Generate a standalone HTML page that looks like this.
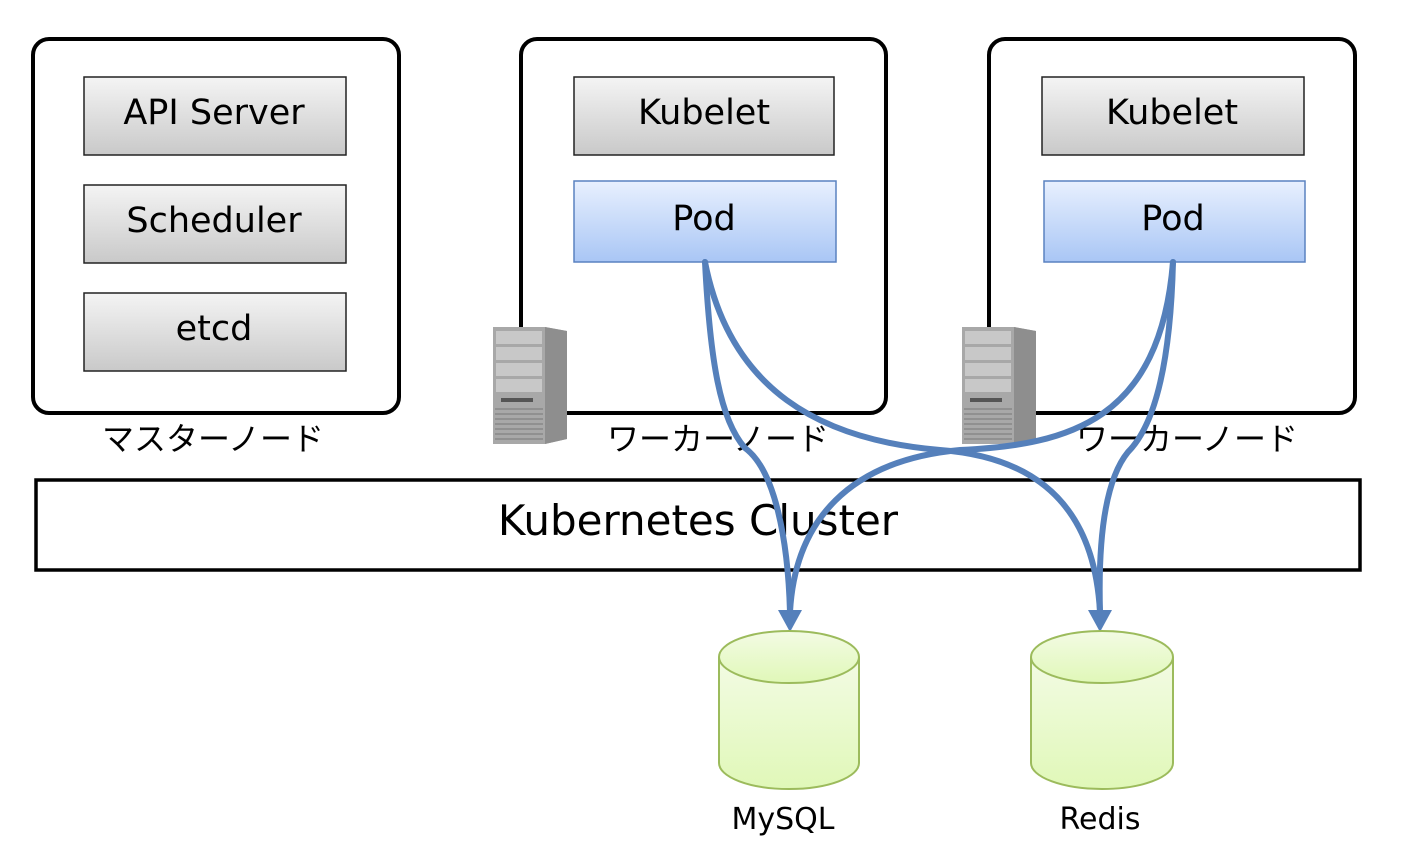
<!DOCTYPE html>
<html><head><meta charset="utf-8"><style>
body{margin:0;background:#fff;}
svg{display:block}
text{font-family:"DejaVu Sans","Liberation Sans","Noto Sans CJK JP",sans-serif;fill:#000}
.jp{font-family:"Noto Sans CJK JP",sans-serif}
</style></head><body>
<svg width="1402" height="860" viewBox="0 0 1402 860" xmlns="http://www.w3.org/2000/svg">
<defs>
<linearGradient id="g" x1="0" y1="0" x2="0" y2="1"><stop offset="0" stop-color="#f4f4f4"/><stop offset="1" stop-color="#c9c9c9"/></linearGradient>
<linearGradient id="b" x1="0" y1="0" x2="0" y2="1"><stop offset="0" stop-color="#e8f0fe"/><stop offset="1" stop-color="#a9c6f5"/></linearGradient>
<linearGradient id="gr" x1="0" y1="0" x2="0" y2="1"><stop offset="0" stop-color="#f3fbe4"/><stop offset="1" stop-color="#e0f8b8"/></linearGradient>
<g id="server">
<polygon points="0,0 52,0 74,4 74,112 52,117 0,117" fill="#a8a8a8"/>
<polygon points="52,0 74,4 74,112 52,117" fill="#8e8e8e"/>
<rect x="3" y="4" width="46" height="13" fill="#c8c8c8"/><rect x="3" y="20" width="46" height="13" fill="#c8c8c8"/>
<rect x="3" y="36" width="46" height="13" fill="#c8c8c8"/><rect x="3" y="52" width="46" height="13" fill="#c8c8c8"/>
<rect x="8" y="71" width="32" height="4" fill="#555"/>
<g stroke="#777" stroke-width="1"><line x1="2" y1="82" x2="50" y2="82"/><line x1="2" y1="87" x2="50" y2="87"/><line x1="2" y1="92" x2="50" y2="92"/><line x1="2" y1="97" x2="50" y2="97"/><line x1="2" y1="102" x2="50" y2="102"/><line x1="2" y1="107" x2="50" y2="107"/><line x1="2" y1="112" x2="50" y2="112"/></g>
</g>
</defs>
<g fill="#fff" stroke="#000" stroke-width="4">
<rect x="33" y="39" width="366" height="374" rx="16"/>
<rect x="521" y="39" width="365" height="374" rx="16"/>
<rect x="989" y="39" width="366" height="374" rx="16"/>
</g>
<g stroke="#222" stroke-width="1.5" fill="url(#g)">
<rect x="84" y="77" width="262" height="78"/>
<rect x="84" y="185" width="262" height="78"/>
<rect x="84" y="293" width="262" height="78"/>
<rect x="574" y="77" width="260" height="78"/>
<rect x="1042" y="77" width="262" height="78"/>
</g>
<g stroke="#5a82c0" stroke-width="1.5" fill="url(#b)">
<rect x="574" y="181" width="262" height="81"/>
<rect x="1044" y="181" width="261" height="81"/>
</g>
<g font-size="35" text-anchor="middle">
<text x="214" y="124">API Server</text>
<text x="214" y="232">Scheduler</text>
<text x="214" y="340">etcd</text>
<text x="704" y="124">Kubelet</text>
<text x="1172" y="124">Kubelet</text>
<text x="704" y="230">Pod</text>
<text x="1173" y="230">Pod</text>
</g>
<use href="#server" x="493" y="327"/>
<use href="#server" x="962" y="327"/>
<g font-size="32" text-anchor="middle" class="jp">
<text x="213" y="450" class="jp">マスターノード</text>
<text x="718" y="450" class="jp">ワーカーノード</text>
<text x="1187" y="450" class="jp">ワーカーノード</text>
</g>
<rect x="36" y="480" width="1324" height="90" fill="#fff" stroke="#000" stroke-width="3.5"/>
<text x="698" y="535" font-size="42" text-anchor="middle">Kubernetes Cluster</text>
<g fill="none" stroke="#5580bb" stroke-width="6" stroke-linecap="round">
<path d="M705,262 C710,360 720,420 745,448 C775,470 788,540 790,612"/>
<path d="M705,262 C730,390 820,440 940,450 C1050,458 1095,520 1100,612"/>
<path d="M1173,262 C1160,420 1070,445 960,450 C850,460 795,520 790,612"/>
<path d="M1173,262 C1170,380 1150,430 1128,452 C1105,480 1098,540 1100,612"/>
</g>
<g fill="#5580bb">
<polygon points="778,610 802,610 790,632"/>
<polygon points="1088,610 1112,610 1100,632"/>
</g>
<g stroke="#9cbb5c" stroke-width="2" fill="url(#gr)">
<path d="M719,657 L719,763 A70,26 0 0 0 859,763 L859,657" />
<ellipse cx="789" cy="657" rx="70" ry="26"/>
<path d="M1031,657 L1031,763 A71,26 0 0 0 1173,763 L1173,657" />
<ellipse cx="1102" cy="657" rx="71" ry="26"/>
</g>
<g font-size="30" text-anchor="middle">
<text x="783" y="829">MySQL</text>
<text x="1100" y="829">Redis</text>
</g>
</svg>
</body></html>
